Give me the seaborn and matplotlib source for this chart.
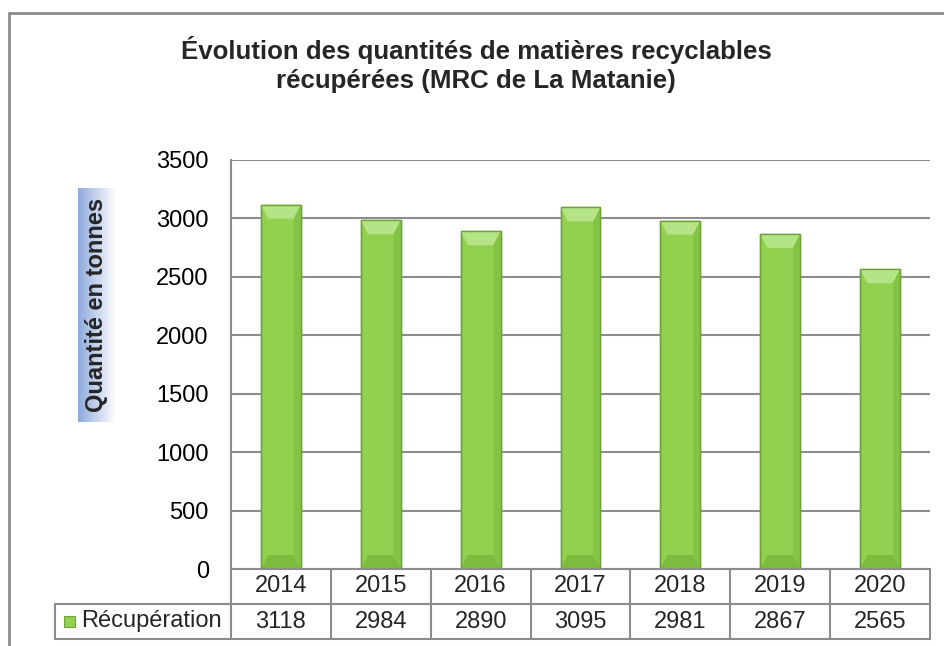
import numpy as np
import pandas as pd
import seaborn as sns
import matplotlib.pyplot as plt
from matplotlib.colors import LinearSegmentedColormap
from matplotlib.patches import Polygon, Rectangle
from matplotlib.lines import Line2D

# data
years = ["2014", "2015", "2016", "2017", "2018", "2019", "2020"]
tonnes = [3118, 2984, 2890, 3095, 2981, 2867, 2565]
series_name = "Récupération"
title_lines = ["Évolution des quantités de matières recyclables",
               "récupérées (MRC de La Matanie)"]
ylabel = "Quantité en tonnes"

df = pd.DataFrame({"annee": years, "tonnes": tonnes})

sns.set_style("white")
plt.rcParams["font.family"] = ["Liberation Sans", "DejaVu Sans"]

W, H = 944, 646
fig = plt.figure(figsize=(W / 100, H / 100), dpi=100)

# plot area in pixels
left, right, top, bottom = 231, 930, 160, 569
ax = fig.add_axes([left / W, 1 - bottom / H, (right - left) / W, (bottom - top) / H])

green = "#92D050"
sns.barplot(data=df, x="annee", y="tonnes", color=green, width=0.4,
            saturation=1, edgecolor="#6FA23C", linewidth=1, ax=ax, zorder=3)

# bevel highlights on each bar, taken from the drawn bars
ppx = 3500 / (bottom - top)       # data units per pixel (y)
for p in ax.patches:
    x0, w, h = p.get_x(), p.get_width(), p.get_height()
    bx = w * 0.18
    by = 14 * ppx
    ax.add_patch(Polygon([(x0, h), (x0 + w, h), (x0 + w - bx, h - by), (x0 + bx, h - by)],
                         closed=True, facecolor="#B4E486", edgecolor="none", zorder=4))
    ax.add_patch(Polygon([(x0, 0), (x0 + w, 0), (x0 + w - bx, by), (x0 + bx, by)],
                         closed=True, facecolor="#7DBB3E", edgecolor="none", zorder=4))
    ax.add_patch(Polygon([(x0 + w, 0), (x0 + w, h), (x0 + w - bx, h - by), (x0 + w - bx, by)],
                         closed=True, facecolor="#84C445", edgecolor="none", zorder=4))
    ax.add_patch(Rectangle((x0, 0), w, h, facecolor="none", edgecolor="#6FA23C", lw=1, zorder=5))

ax.set_ylim(0, 3500)
ax.set_xlim(-0.5, len(years) - 0.5)
ax.set_yticks(range(0, 3501, 500))
ax.yaxis.grid(True, color="#8C8C8C", linewidth=1.5, zorder=0)
ax.tick_params(axis="y", labelsize=17, length=0, pad=16, colors="black")
ax.set_xticks([])
ax.set_xlabel("")
ax.set_ylabel("")
for s in ["top", "right", "bottom"]:
    ax.spines[s].set_visible(False)
ax.spines["left"].set_color("#8C8C8C")
ax.spines["left"].set_linewidth(1.5)

# data table below the plot
gray = "#8C8C8C"
row1, row2, row3 = 569, 604, 639
leg_left = 55
colw = (right - left) / len(years)


def fx(px):
    return px / W


def fy(py):
    return 1 - py / H


def hline(x0, x1, y):
    fig.add_artist(Line2D([fx(x0), fx(x1)], [fy(y), fy(y)], color=gray, lw=1.5))


def vline(x, y0, y1):
    fig.add_artist(Line2D([fx(x), fx(x)], [fy(y0), fy(y1)], color=gray, lw=1.5))


hline(left, right, row1)
hline(leg_left, right, row2)
hline(leg_left, right, row3)
vline(leg_left, row2, row3)
for i in range(len(years) + 1):
    vline(left + i * colw, row1, row3)
for i, (yr, v) in enumerate(zip(years, tonnes)):
    cx = left + (i + 0.5) * colw
    fig.text(fx(cx), fy((row1 + row2) / 2), yr, ha="center", va="center", fontsize=17)
    fig.text(fx(cx), fy((row2 + row3) / 2), str(v), ha="center", va="center", fontsize=17)

# legend key inside the table
fig.add_artist(Rectangle((fx(64), fy(627)), 11 / W, 11 / H, facecolor=green,
                         edgecolor="#6FA23C", lw=0.8))
fig.text(fx(81), fy((row2 + row3) / 2), series_name, ha="left", va="center", fontsize=17)

# title, two lines
fig.text(fx(476), fy(59), title_lines[0], ha="center", va="baseline", fontsize=18.6,
         fontweight="bold")
fig.text(fx(476), fy(88), title_lines[1], ha="center", va="baseline", fontsize=18.6,
         fontweight="bold")

# y label on a gradient box
lab_ax = fig.add_axes([fx(78), fy(422), 37 / W, 234 / H])
cmap = LinearSegmentedColormap.from_list("lab", ["#8EAADB", "#FFFFFF"])
lab_ax.imshow(np.linspace(0, 1, 100).reshape(1, -1), aspect="auto", cmap=cmap,
              extent=(0, 1, 0, 1))
lab_ax.set_axis_off()
lab_ax.text(0.5, 0.5, ylabel, rotation=90, ha="center", va="center", fontsize=17,
            fontweight="bold", transform=lab_ax.transAxes)

# outer chart border
fig.add_artist(Line2D([fx(9), fx(9)], [fy(13), 0], color="#8C8C8C", lw=2))
fig.add_artist(Line2D([fx(9), 1], [fy(13), fy(13)], color="#8C8C8C", lw=2))

fig.savefig("out.png", dpi=100)
